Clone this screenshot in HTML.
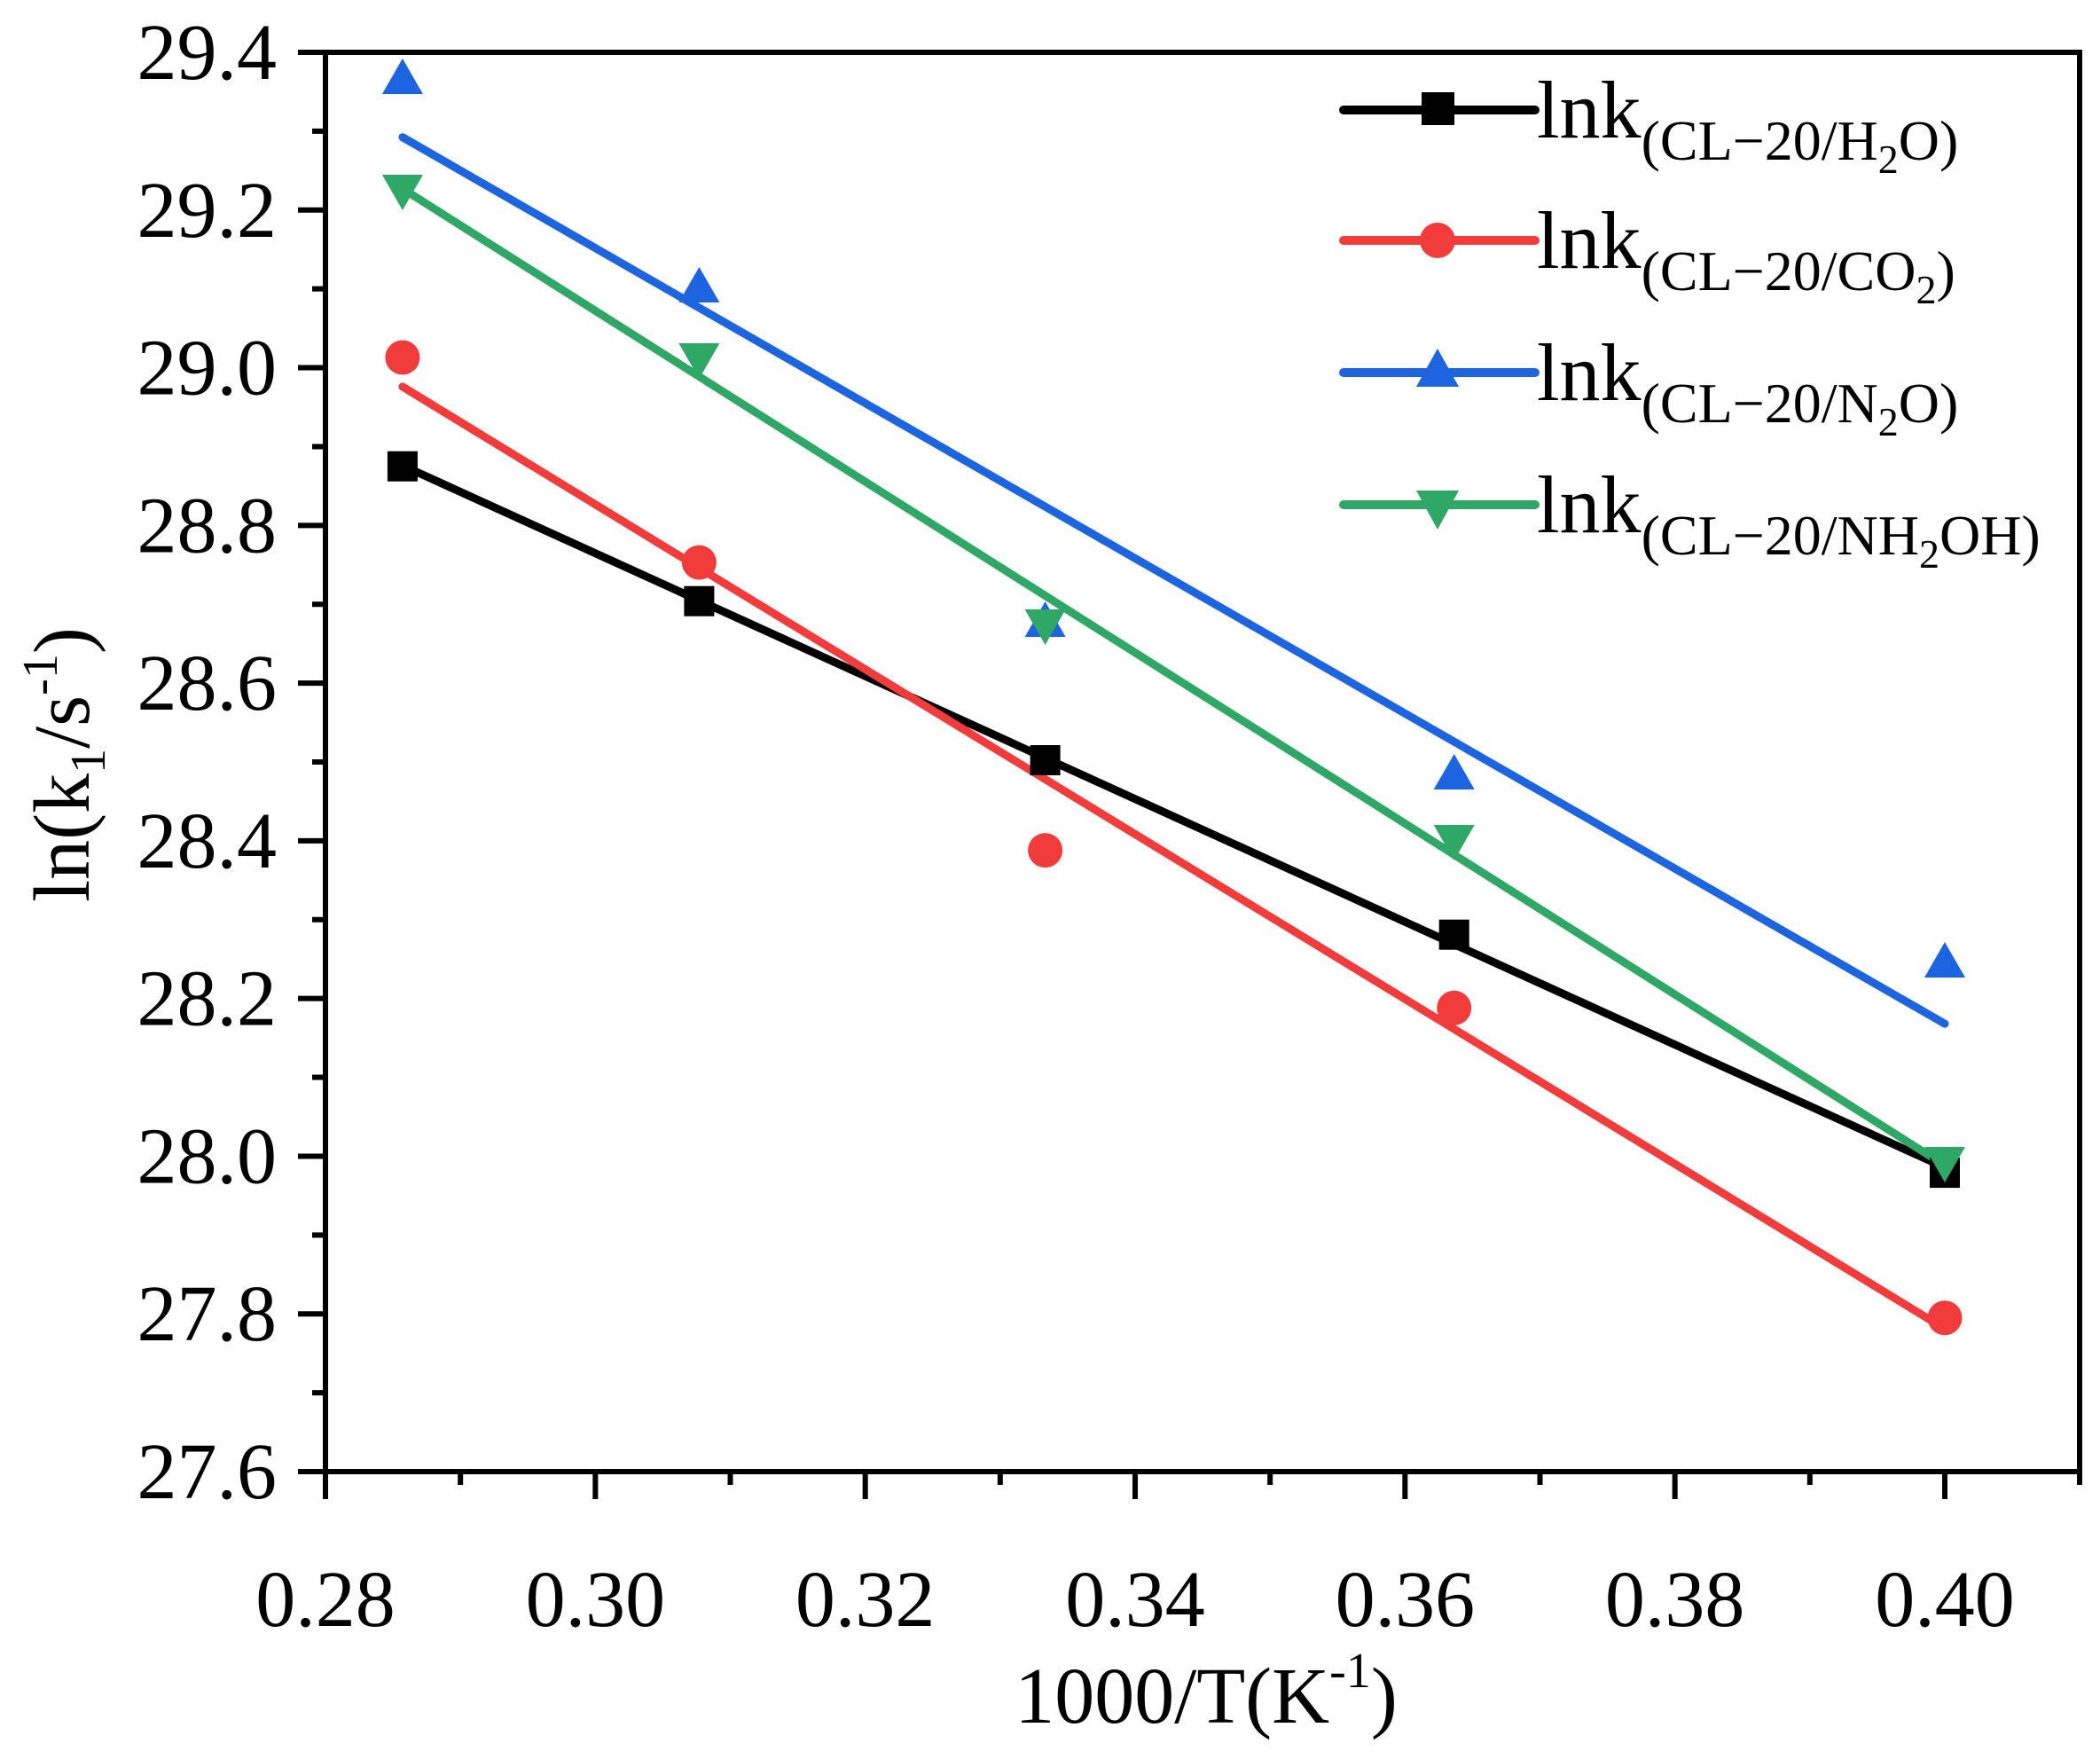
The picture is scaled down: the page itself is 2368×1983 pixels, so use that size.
<!DOCTYPE html>
<html>
<head>
<meta charset="utf-8">
<style>
  html, body { margin: 0; padding: 0; background: #ffffff; }
  svg { display: block; }
  text { font-family: "Liberation Serif", "Times New Roman", serif; fill: #000; }
</style>
</head>
<body>
<svg width="2368" height="1983" viewBox="0 0 2368 1983" xmlns="http://www.w3.org/2000/svg">
  <rect x="0" y="0" width="2368" height="1983" fill="#ffffff"/>

  <!-- Axis frame -->
  <rect x="367" y="59" width="1978" height="1600" fill="none" stroke="#000" stroke-width="6"/>

  <!-- Y major ticks -->
  <path d="M336 59H367 M336 236.78H367 M336 414.56H367 M336 592.33H367 M336 770.11H367 M336 947.89H367 M336 1125.67H367 M336 1303.44H367 M336 1481.22H367 M336 1659H367" stroke="#000" stroke-width="6" fill="none"/>
  <!-- Y minor ticks -->
  <path d="M352 147.89H367 M352 325.67H367 M352 503.44H367 M352 681.22H367 M352 859H367 M352 1036.78H367 M352 1214.56H367 M352 1392.33H367 M352 1570.11H367" stroke="#000" stroke-width="6" fill="none"/>
  <!-- X major ticks -->
  <path d="M367 1659V1690 M671.33 1659V1690 M975.67 1659V1690 M1280 1659V1690 M1584.33 1659V1690 M1888.67 1659V1690 M2193 1659V1690" stroke="#000" stroke-width="6" fill="none"/>
  <!-- X minor ticks -->
  <path d="M519.17 1659V1674 M823.5 1659V1674 M1127.83 1659V1674 M1432.17 1659V1674 M1736.5 1659V1674 M2040.83 1659V1674 M2345 1659V1674" stroke="#000" stroke-width="6" fill="none"/>

  <!-- Y tick labels -->
  <g font-size="90" text-anchor="end">
    <text x="312" y="89">29.4</text>
    <text x="312" y="266.78">29.2</text>
    <text x="312" y="444.56">29.0</text>
    <text x="312" y="622.33">28.8</text>
    <text x="312" y="800.11">28.6</text>
    <text x="312" y="977.89">28.4</text>
    <text x="312" y="1155.67">28.2</text>
    <text x="312" y="1333.44">28.0</text>
    <text x="312" y="1511.22">27.8</text>
    <text x="312" y="1689">27.6</text>
  </g>

  <!-- X tick labels -->
  <g font-size="90" text-anchor="middle">
    <text x="367" y="1833">0.28</text>
    <text x="671.33" y="1833">0.30</text>
    <text x="975.67" y="1833">0.32</text>
    <text x="1280" y="1833">0.34</text>
    <text x="1584.33" y="1833">0.36</text>
    <text x="1888.67" y="1833">0.38</text>
    <text x="2193" y="1833">0.40</text>
  </g>

  <!-- Axis titles -->
  <text x="1360" y="1942" text-anchor="middle" font-size="90">1000/T(K<tspan font-size="56" dy="-40">-1</tspan><tspan dy="40">)</tspan></text>
  <text transform="translate(100,862) rotate(-90)" text-anchor="middle" font-size="90">ln(k<tspan font-size="56" dy="18">1</tspan><tspan dy="-18">/s</tspan><tspan font-size="56" dy="-36">-1</tspan><tspan dy="36">)</tspan></text>

  <!-- Fit lines -->
  <g stroke-width="9" stroke-linecap="round" fill="none">
    <line x1="453.9" y1="524.8" x2="2193" y2="1316.2" stroke="#000000"/>
    <line x1="453.9" y1="435.9" x2="2193" y2="1498" stroke="#F23C3C"/>
    <line x1="453.9" y1="154.7" x2="2193" y2="1154.1" stroke="#1C64E0"/>
    <line x1="453.9" y1="212.7" x2="2193" y2="1313.8" stroke="#2EA864"/>
  </g>

  <!-- Black squares -->
  <g fill="#000000">
    <rect x="436.9" y="508.7" width="34" height="34"/>
    <rect x="771.4" y="660.7" width="34" height="34"/>
    <rect x="1161.6" y="840" width="34" height="34"/>
    <rect x="1622.7" y="1036.7" width="34" height="34"/>
    <rect x="2176" y="1305.1" width="34" height="34"/>
  </g>

  <!-- Red circles -->
  <g fill="#F23C3C">
    <circle cx="453.9" cy="403" r="19.5"/>
    <circle cx="788.4" cy="634.1" r="19.5"/>
    <circle cx="1178.6" cy="958.6" r="19.5"/>
    <circle cx="1639.7" cy="1136.3" r="19.5"/>
    <circle cx="2193" cy="1485.7" r="19.5"/>
  </g>

  <!-- Blue up triangles -->
  <g fill="#1C64E0">
    <polygon points="453.9,66 430.9,106 476.9,106"/>
    <polygon points="788.4,301 765.4,341 811.4,341"/>
    <polygon points="1178.6,678 1155.6,718 1201.6,718"/>
    <polygon points="1639.7,850 1616.7,890 1662.7,890"/>
    <polygon points="2193,1062 2170,1102 2216,1102"/>
  </g>

  <!-- Green down triangles -->
  <g fill="#2EA864">
    <polygon points="430.9,197 476.9,197 453.9,237"/>
    <polygon points="765.4,387 811.4,387 788.4,427"/>
    <polygon points="1155.6,687 1201.6,687 1178.6,727"/>
    <polygon points="1616.7,930 1662.7,930 1639.7,970"/>
    <polygon points="2170,1293 2216,1293 2193,1333"/>
  </g>

  <!-- Legend -->
  <g stroke-width="10" stroke-linecap="round" fill="none">
    <line x1="1515" y1="124" x2="1731" y2="124" stroke="#000000"/>
    <line x1="1515" y1="271" x2="1731" y2="271" stroke="#F23C3C"/>
    <line x1="1515" y1="420" x2="1731" y2="420" stroke="#1C64E0"/>
    <line x1="1515" y1="569" x2="1731" y2="569" stroke="#2EA864"/>
  </g>
  <rect x="1603" y="104" width="37" height="37" fill="#000000"/>
  <circle cx="1621" cy="271" r="20" fill="#F23C3C"/>
  <polygon points="1621,393 1597,436 1645,436" fill="#1C64E0"/>
  <polygon points="1597,553 1645,553 1621,597" fill="#2EA864"/>

  <g font-size="92">
    <text x="1733" y="155">lnk<tspan font-size="64" dy="25">(CL−20/H</tspan><tspan font-size="46" dy="15">2</tspan><tspan font-size="64" dy="-15">O)</tspan></text>
    <text x="1733" y="302">lnk<tspan font-size="64" dy="25">(CL−20/CO</tspan><tspan font-size="46" dy="15">2</tspan><tspan font-size="64" dy="-15">)</tspan></text>
    <text x="1733" y="451">lnk<tspan font-size="64" dy="25">(CL−20/N</tspan><tspan font-size="46" dy="15">2</tspan><tspan font-size="64" dy="-15">O)</tspan></text>
    <text x="1733" y="600">lnk<tspan font-size="64" dy="25">(CL−20/NH</tspan><tspan font-size="46" dy="15">2</tspan><tspan font-size="64" dy="-15">OH)</tspan></text>
  </g>
</svg>
</body>
</html>
